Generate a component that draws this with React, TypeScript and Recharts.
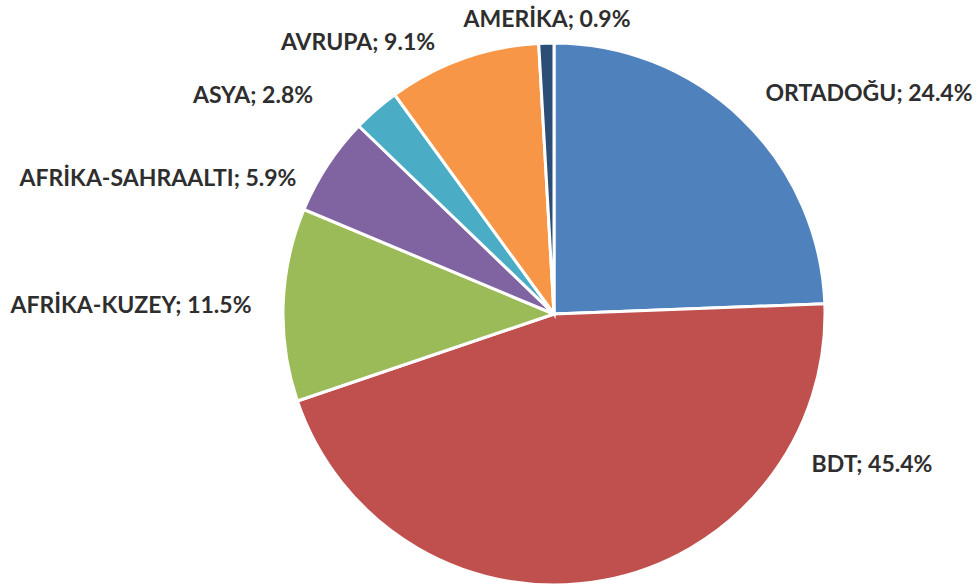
import { PieChart, Pie, Cell } from "recharts";

const regions = [
  "ORTADOĞU",
  "BDT",
  "AFRİKA-KUZEY",
  "AFRİKA-SAHRAALTI",
  "ASYA",
  "AVRUPA",
  "AMERİKA",
];
const shares = [24.4, 45.4, 11.5, 5.9, 2.8, 9.1, 0.9];

const COLORS = ["#4F81BD", "#C0504D", "#9BBB59", "#8064A2", "#4BACC6", "#F79646", "#2C4D75"];

// label centres, relative to the pie centre (Excel "best fit" placement)
const LABEL_OFFSETS: Record<string, [number, number]> = {
  "ORTADOĞU": [315, -222],
  BDT: [318, 149],
  "AFRİKA-KUZEY": [-423, -10],
  "AFRİKA-SAHRAALTI": [-396, -137],
  ASYA: [-301, -220],
  AVRUPA: [-196, -273],
  "AMERİKA": [-7, -296],
};

const data = regions.map((name, i) => ({ name, value: shares[i] }));

function renderLabel(props: any) {
  const { cx, cy, name, value } = props;
  const [dx, dy] = LABEL_OFFSETS[name] ?? [0, 0];
  return (
    <text
      x={cx + dx}
      y={cy + dy}
      textAnchor="middle"
      dominantBaseline="central"
      fill="#2e2e2e"
      fontFamily="Lato, 'Open Sans', sans-serif"
      fontWeight={700}
      fontSize={23}
    >
      {`${name}; ${value.toFixed(1)}%`}
    </text>
  );
}

export default function App() {
  return (
    <div style={{ width: 977, height: 584, background: "#fff" }}>
      <style>{"body{margin:0}"}</style>
      <PieChart width={977} height={584} margin={{ top: 0, right: 0, bottom: 0, left: 0 }}>
        <Pie
          data={data}
          dataKey="value"
          nameKey="name"
          cx={554}
          cy={314}
          outerRadius={271}
          startAngle={90}
          endAngle={-270}
          stroke="#ffffff"
          strokeWidth={3}
          label={renderLabel}
          labelLine={false}
          isAnimationActive={false}
        >
          {data.map((d, i) => (
            <Cell key={d.name} fill={COLORS[i]} />
          ))}
        </Pie>
      </PieChart>
    </div>
  );
}
